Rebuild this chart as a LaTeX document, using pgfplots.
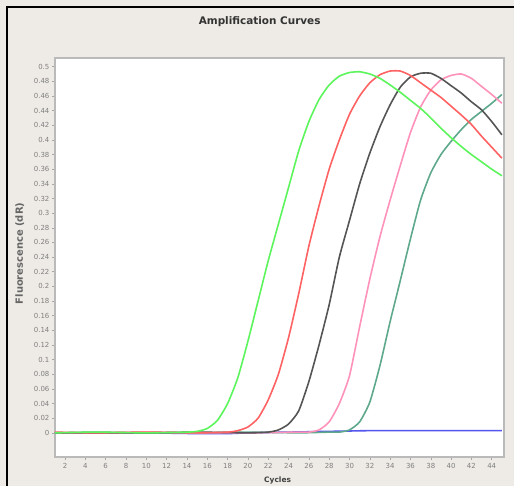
\documentclass[border=0pt]{standalone}
\usepackage{pgfplots}
\pgfplotsset{compat=1.18}
\usepackage{fontspec}
\setmainfont{DejaVu Sans}
\definecolor{panelbg}{HTML}{EEEBE6}
\definecolor{cgreen}{HTML}{5CF55C}
\definecolor{cred}{HTML}{FF6262}
\definecolor{cblack}{HTML}{555555}
\definecolor{cpink}{HTML}{FF92BA}
\definecolor{cteal}{HTML}{5EA88C}
\definecolor{cblue}{HTML}{5555F0}
\begin{document}
\begin{tikzpicture}
\fill[panelbg] (0,0) rectangle (515bp,487bp);
\draw[black, line width=2.2bp] (7bp,0) -- (7bp,480bp) -- (515bp,480bp);
\begin{axis}[
  at={(55bp,29bp)}, anchor=south west,
  width=450bp, height=400bp, scale only axis,
  xmin=1, xmax=45.2, ymin=-0.033, ymax=0.512,
  xtick={2,4,...,44},
  ytick={0,0.02,0.04,0.06,0.08,0.1,0.12,0.14,0.16,0.18,0.2,0.22,0.24,0.26,0.28,0.3,0.32,0.34,0.36,0.38,0.4,0.42,0.44,0.46,0.48,0.5},
  xtick pos=bottom, ytick pos=left,
  /pgf/number format/assume math mode=true,
  yticklabel style={/pgf/number format/fixed,/pgf/number format/precision=2, xshift=0.5bp},
  tick label style={font=\fontsize{7}{8}\selectfont, text=black!50},
  xticklabel style={yshift=-0.5bp},
  axis line style={draw=black!27, line width=2.2bp},
  tick style={draw=black!35, line width=0.5bp},
  tick align=outside, major tick length=2.5bp,
  axis background/.style={fill=white},
  title={Amplification Curves},
  title style={font=\bfseries\fontsize{10.5}{12}\selectfont, text=black!80, at={(axis description cs:0.456,1.075)}, anchor=center},
  xlabel={Cycles},
  xlabel style={font=\bfseries\fontsize{7.5}{8}\selectfont, text=black!75, at={(axis description cs:0.496,-0.06)}, anchor=center},
  ylabel={Fluorescence (dR)},
  ylabel style={font=\bfseries\fontsize{10}{11}\selectfont, text=black!60, at={(axis description cs:-0.078,0.51)}, anchor=center},
  every axis plot/.append style={line width=1.6bp, smooth, tension=0.35, mark=none},
]
% blue
\addplot[cblue] coordinates {(1,0.000)(5,0.000)(10,0.000)(15,-0.001)(18,-0.001)(20,0.000)(24,0.001)(28,0.002)(32,0.003)(36,0.003)(40,0.003)(45,0.003)};
% teal
\addplot[cteal] coordinates {(1,0.000)(5,0.001)(10,0.000)(15,0.000)(20,0.001)(25,0.000)(28,0.001)(29,0.001)(30,0.004)(31,0.015)(32,0.042)(33,0.092)(34,0.152)(35,0.208)(36,0.265)(37,0.318)(38,0.355)(39,0.380)(40,0.398)(41,0.414)(42,0.428)(43,0.439)(44,0.450)(45,0.462)};
% pink
\addplot[cpink] coordinates {(1,0.000)(5,0.000)(10,0.001)(15,0.000)(20,0.000)(25,0.001)(26,0.001)(27,0.004)(28,0.015)(29,0.040)(30,0.078)(31,0.145)(32,0.210)(33,0.268)(34,0.318)(35,0.365)(36,0.410)(37,0.445)(38,0.468)(39,0.482)(40,0.488)(41,0.490)(42,0.484)(43,0.473)(44,0.462)(45,0.450)};
% black
\addplot[cblack] coordinates {(1,0.000)(5,0.000)(10,0.000)(15,0.001)(20,0.000)(22,0.001)(23,0.004)(24,0.012)(25,0.030)(26,0.070)(27,0.120)(28,0.175)(29,0.240)(30,0.290)(31,0.340)(32,0.382)(33,0.418)(34,0.448)(35,0.472)(36,0.486)(37,0.491)(38,0.491)(39,0.484)(40,0.474)(41,0.464)(42,0.452)(43,0.441)(44,0.425)(45,0.407)};
% red
\addplot[cred] coordinates {(1,0.001)(5,0.000)(10,0.001)(15,0.000)(18,0.001)(19,0.003)(20,0.008)(21,0.020)(22,0.045)(23,0.080)(24,0.130)(25,0.190)(26,0.255)(27,0.310)(28,0.360)(29,0.400)(30,0.435)(31,0.460)(32,0.478)(33,0.489)(34,0.494)(35,0.494)(36,0.488)(37,0.478)(38,0.468)(39,0.458)(40,0.446)(41,0.434)(42,0.421)(43,0.405)(44,0.390)(45,0.375)};
% green
\addplot[cgreen] coordinates {(1,0.000)(5,0.001)(10,0.000)(14,0.001)(15,0.002)(16,0.006)(17,0.017)(18,0.040)(19,0.075)(20,0.125)(21,0.180)(22,0.235)(23,0.285)(24,0.335)(25,0.385)(26,0.425)(27,0.455)(28,0.475)(29,0.487)(30,0.492)(31,0.493)(32,0.490)(33,0.484)(34,0.475)(35,0.465)(36,0.454)(37,0.443)(38,0.430)(39,0.416)(40,0.403)(41,0.391)(42,0.380)(43,0.370)(44,0.360)(45,0.351)};
\end{axis}
\end{tikzpicture}
\end{document}
